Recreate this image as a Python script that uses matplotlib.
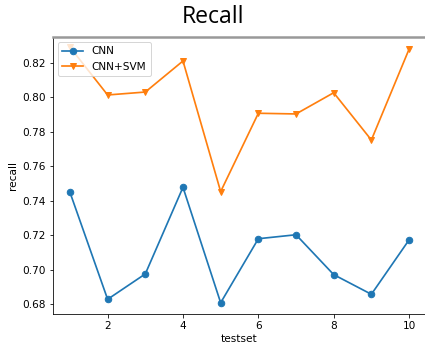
import matplotlib
matplotlib.use("Agg")
import matplotlib.pyplot as plt

testset = [1, 2, 3, 4, 5, 6, 7, 8, 9, 10]
cnn = [0.7449, 0.6829, 0.6976, 0.7478, 0.6809, 0.7180, 0.7203, 0.6972, 0.6858, 0.7173]
cnn_svm = [0.829, 0.8013, 0.8030, 0.8210, 0.7453, 0.7907, 0.7903, 0.8026, 0.7752, 0.8278]
yticks = [0.68, 0.70, 0.72, 0.74, 0.76, 0.78, 0.80, 0.82]
xticks = [2, 4, 6, 8, 10]

plt.rcParams['font.size'] = 10.5
fig = plt.figure(figsize=(425 / 72, 347 / 72), dpi=72)
ax = fig.add_axes([53 / 425, 1 - 314 / 347, 373 / 425, 277 / 347])

ax.plot(testset, cnn, marker='o', color='#1f77b4', label='CNN', lw=1.7, ms=6.5)
ax.plot(testset, cnn_svm, marker='v', color='#ff7f0e', label='CNN+SVM', lw=1.7, ms=6.5)

ax.set_xticks(xticks)
ax.set_yticks(yticks)
ax.set_yticklabels([f"{v:.2f}" for v in yticks])
ax.set_xlim(0.55, 10.45)
ax.set_ylim(0.67438, 0.83489)
ax.set_xlabel('testset', labelpad=3)
ax.set_ylabel('recall')
ax.legend(loc='upper left')

ax.spines['top'].set_color('#999999')
ax.spines['top'].set_linewidth(2.5)

fig.text(0.5, 1 - 17 / 347, 'Recall', ha='center', va='center',
         fontsize=23, family=['Open Sans', 'DejaVu Sans'], color='black')

fig.savefig('out.png', dpi=72)
